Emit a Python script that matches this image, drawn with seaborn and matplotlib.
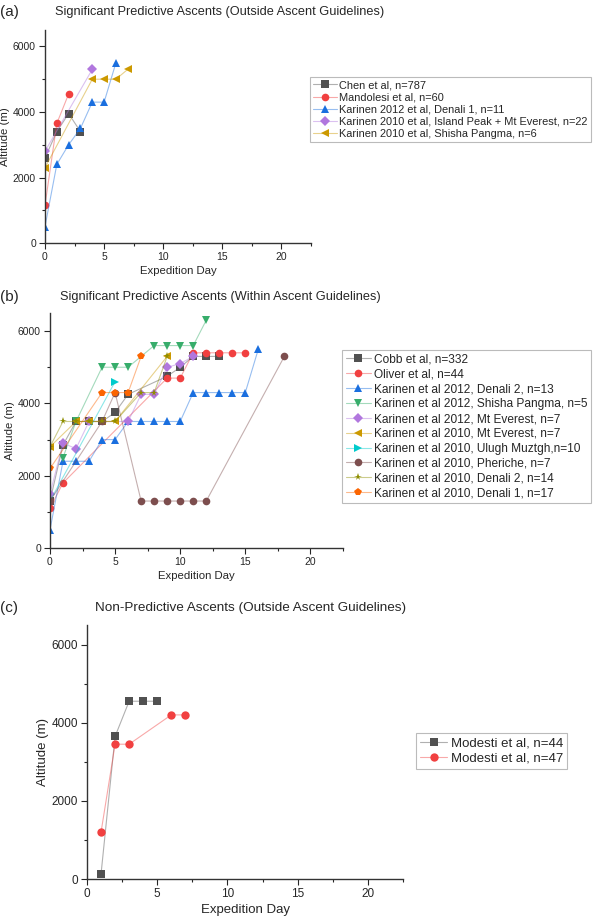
import numpy as np
import pandas as pd
import seaborn as sns
import matplotlib.pyplot as plt
from matplotlib.colors import to_rgb
from matplotlib.ticker import MultipleLocator

sns.set_theme(style="ticks")
plt.rcParams['font.family'] = ['Liberation Sans', 'DejaVu Sans']

# Origin "bright" palette
BLACK, RED, BLUE, GREEN = '#515151', '#F14040', '#1A6FDF', '#37AD6B'
PURPLE, GOLD, CYAN, BROWN = '#B177DE', '#CC9900', '#00CBCC', '#7D4E4E'
OLIVE, ORANGE = '#8E8E00', '#FB6501'

# ---- panel (a) ----
a_names = ['Chen et al, n=787', 'Mandolesi et al, n=60', 'Karinen 2012 et al, Denali 1, n=11',
           'Karinen 2010 et al, Island Peak + Mt Everest, n=22', 'Karinen 2010 et al, Shisha Pangma, n=6']
a_days = [[0, 1, 2, 3],
          [0, 1, 2],
          [0, 1, 2, 3, 4, 5, 6],
          [0, 4],
          [0, 4, 5, 6, 7]]
a_alt = [[2600, 3400, 3950, 3400],
         [1150, 3650, 4550],
         [500, 2400, 3000, 3500, 4300, 4300, 5500],
         [2800, 5300],
         [2300, 5000, 5000, 5000, 5300]]
a_colors = [BLACK, RED, BLUE, PURPLE, GOLD]
a_markers = ['s', 'o', '^', 'D', '<']

# ---- panel (b) ----
b_names = ['Cobb et al, n=332', 'Oliver et al, n=44', 'Karinen et al 2012, Denali 2, n=13',
           'Karinen et al 2012, Shisha Pangma, n=5', 'Karinen et al 2012, Mt Everest, n=7',
           'Karinen et al 2010, Mt Everest, n=7', 'Karinen et al 2010, Ulugh Muztgh,n=10',
           'Karinen et al 2010, Pheriche, n=7', 'Karinen et al 2010, Denali 2, n=14',
           'Karinen et al 2010, Denali 1, n=17']
b_days = [[0, 1, 2, 3, 4, 5, 6, 9, 10, 11, 12, 13],
          [0, 1, 9, 10, 11, 12, 13, 14, 15],
          [0, 1, 2, 3, 4, 5, 6, 7, 8, 9, 10, 11, 12, 13, 14, 15, 16],
          [1, 2, 4, 5, 6, 8, 9, 10, 11, 12],
          [0, 1, 2, 3, 6, 7, 8, 9, 10, 11],
          [0, 2, 3, 4, 5, 9],
          [0, 5],
          [0, 4, 5, 7, 8, 9, 10, 11, 12, 18],
          [0, 1, 2, 3, 4, 5, 7, 8, 9],
          [0, 4, 5, 6, 7]]
b_alt = [[1300, 2850, 3500, 3500, 3500, 3750, 4250, 4750, 5000, 5300, 5300, 5300],
         [1100, 1800, 4700, 4700, 5400, 5400, 5400, 5400, 5400],
         [500, 2400, 2400, 2400, 3000, 3000, 3500, 3500, 3500, 3500, 3500, 4300, 4300, 4300, 4300, 4300, 5500],
         [2500, 3500, 5000, 5000, 5000, 5600, 5600, 5600, 5600, 6300],
         [1500, 2900, 2750, 3500, 3500, 4250, 4250, 5000, 5100, 5300],
         [2800, 3500, 3500, 3500, 3500, 5300],
         [1300, 4600],
         [1300, 3500, 4300, 1300, 1300, 1300, 1300, 1300, 1300, 5300],
         [2800, 3500, 3500, 3500, 3500, 3500, 4300, 4300, 5300],
         [2200, 4300, 4300, 4300, 5300]]
b_colors = [BLACK, RED, BLUE, GREEN, PURPLE, GOLD, CYAN, BROWN, OLIVE, ORANGE]
b_markers = ['s', 'o', '^', 'v', 'D', '<', '>', 'o', '*', 'p']

# ---- panel (c) ----
c_names = ['Modesti et al, n=44', 'Modesti et al, n=47']
c_days = [[1, 2, 3, 4, 5], [1, 2, 3, 6, 7]]
c_alt = [[130, 3650, 4550, 4550, 4550], [1200, 3450, 3450, 4200, 4200]]
c_colors = [BLACK, RED]
c_markers = ['s', 'o']


def long_df(names, days, alts):
    rows = []
    for n, d, a in zip(names, days, alts):
        for x, y in zip(d, a):
            rows.append({'series': n, 'day': x, 'alt': y})
    return pd.DataFrame(rows)


def draw(ax, names, days, alts, colors, markers, title, tag, fs, lab_fs, title_fs, ms,
         leg_anchor, leg_fs, leg_space):
    df = long_df(names, days, alts)
    sns.lineplot(data=df, x='day', y='alt', hue='series', style='series',
                 hue_order=names, style_order=names,
                 palette=dict(zip(names, colors)), markers=dict(zip(names, markers)),
                 dashes=False, estimator=None, sort=False, ax=ax,
                 linewidth=0.8, markersize=ms, markeredgewidth=0)
    ax.set_xlim(0, 22.5)
    ax.set_ylim(0, 6500)
    ax.xaxis.set_major_locator(MultipleLocator(5))
    ax.xaxis.set_minor_locator(MultipleLocator(2.5))
    ax.yaxis.set_major_locator(MultipleLocator(2000))
    ax.yaxis.set_minor_locator(MultipleLocator(1000))
    ax.tick_params(which='major', length=4, width=0.8, labelsize=fs, direction='out', pad=2.5)
    ax.tick_params(which='minor', length=2, width=0.8)
    ax.set_xlabel('Expedition Day', fontsize=lab_fs, labelpad=3)
    ax.set_ylabel('Altitude (m)', fontsize=lab_fs, labelpad=2)
    for s in ['top', 'right']:
        ax.spines[s].set_visible(False)
    for s in ['left', 'bottom']:
        ax.spines[s].set_color('#333333')
        ax.spines[s].set_linewidth(1.0)
    leg = ax.legend(loc='upper left', bbox_to_anchor=leg_anchor, bbox_transform=fig.transFigure,
                    fontsize=leg_fs, frameon=True, fancybox=False, edgecolor='#aaaaaa',
                    handlelength=2.1, borderpad=0.3, labelspacing=leg_space, handletextpad=0.25,
                    borderaxespad=0)
    leg.get_frame().set_linewidth(0.8)
    for ln in list(ax.lines) + list(leg.get_lines()):
        c = ln.get_color()
        ln.set_color((*to_rgb(c), 0.45))
        ln.set_markerfacecolor(c)
        ln.set_markeredgecolor(c)
    fig.text(0.0, title[1], tag, fontsize=11, va='center', ha='left')
    fig.text(title[2], title[1], title[0], fontsize=title_fs, va='center', ha='left')


fig = plt.figure(figsize=(6, 9.22), dpi=100)
ax_a = fig.add_axes([0.075, 0.7364, 0.4433, 0.231])
ax_b = fig.add_axes([0.0833, 0.4056, 0.4883, 0.2549])
ax_c = fig.add_axes([0.145, 0.0466, 0.5267, 0.2755])

draw(ax_a, a_names, a_days, a_alt, a_colors, a_markers,
     ('Significant Predictive Ascents (Outside Ascent Guidelines)', 1 - 12 / 922, 0.092),
     '(a)', 7.5, 8.2, 9.2, 5.5, (0.517, 1 - 77 / 922), 7.9, 0.2)
draw(ax_b, b_names, b_days, b_alt, b_colors, b_markers,
     ('Significant Predictive Ascents (Within Ascent Guidelines)', 1 - 297 / 922, 0.1),
     '(b)', 7.5, 8.2, 9.2, 5.5, (0.57, 1 - 350 / 922), 8.6, 0.24)
draw(ax_c, c_names, c_days, c_alt, c_colors, c_markers,
     ('Non-Predictive Ascents (Outside Ascent Guidelines)', 1 - 608 / 922, 0.158),
     '(c)', 8.5, 9.5, 9.7, 6, (0.693, 1 - 733 / 922), 9.5, 0.25)

fig.savefig('out.png', dpi=100, facecolor='white')
